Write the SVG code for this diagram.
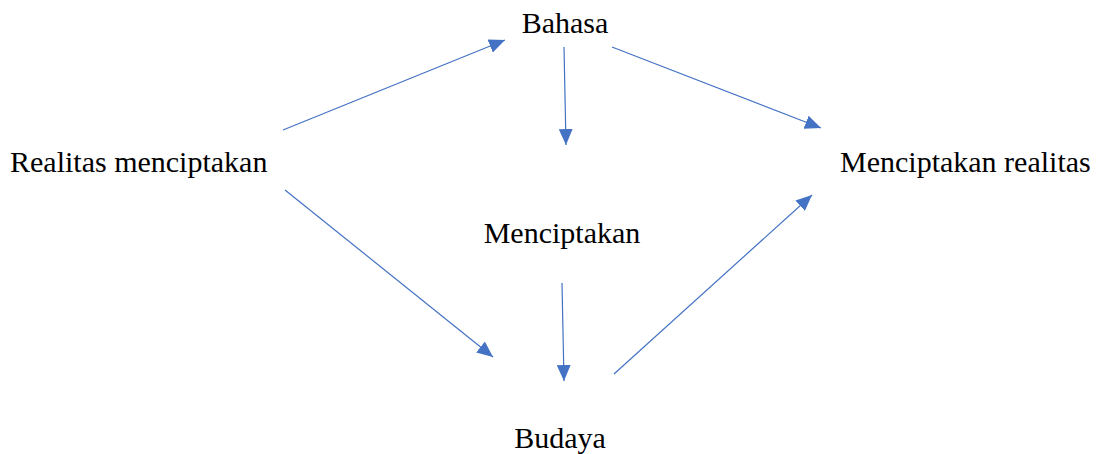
<svg xmlns="http://www.w3.org/2000/svg" width="1098" height="454" viewBox="0 0 1098 454">
<style>
text{font-family:"Liberation Serif","Times New Roman",serif;font-size:30px;fill:#000}
.c line{stroke:#4472C4;stroke-width:1.2;fill:none;marker-end:url(#ah)}
</style>
<defs>
<marker id="ah" markerUnits="userSpaceOnUse" markerWidth="18" markerHeight="14" refX="16" refY="7" orient="auto">
<path d="M0,0 L16,7 L0,14 Z" fill="#4472C4"/>
</marker>
</defs>
<rect width="1098" height="454" fill="#fff"/>
<g id="bahasa"><text x="565" y="33" text-anchor="middle">Bahasa</text></g>
<g id="realitas-menciptakan"><text x="10" y="172">Realitas menciptakan</text></g>
<g id="menciptakan-realitas"><text x="840" y="172">Menciptakan realitas</text></g>
<g id="menciptakan"><text x="562" y="243" text-anchor="middle">Menciptakan</text></g>
<g id="budaya"><text x="560" y="448" text-anchor="middle">Budaya</text></g>
<g class="c" id="connectors">
<line x1="283" y1="130" x2="505" y2="40"/>
<line x1="564" y1="47" x2="566" y2="145"/>
<line x1="612" y1="47" x2="821" y2="128"/>
<line x1="285" y1="190" x2="493" y2="357"/>
<line x1="562" y1="283" x2="564" y2="381"/>
<line x1="614" y1="374" x2="812" y2="195"/>
</g>
</svg>
